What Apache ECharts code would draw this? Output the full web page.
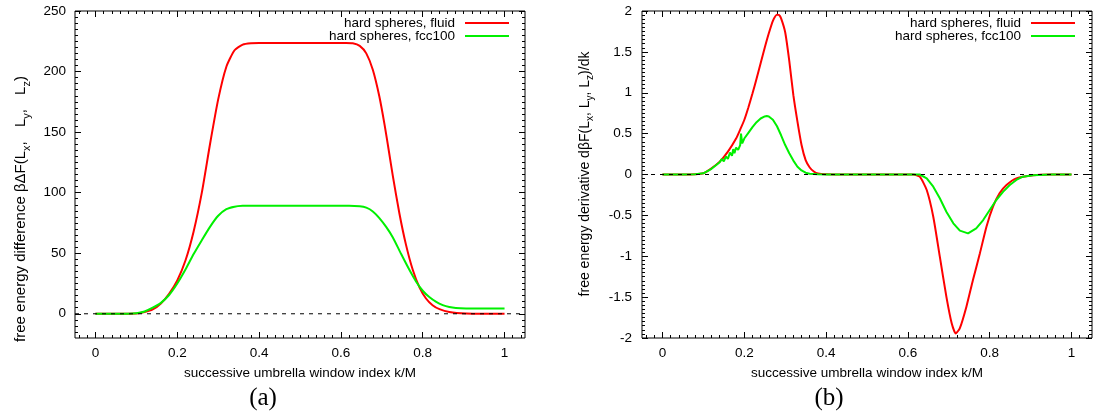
<!DOCTYPE html>
<html><head><meta charset="utf-8">
<script src="https://cdn.jsdelivr.net/npm/echarts@6/dist/echarts.min.js"></script>
<style>html,body{margin:0;padding:0;background:#fff}#c{width:1098px;height:417px}</style>
</head><body><div id="c"></div>
<script>
// ---------- data ----------
const seriesNames = ['hard spheres, fluid', 'hard spheres, fcc100'];
const xTickLabels = [0, 0.2, 0.4, 0.6, 0.8, 1];
const yTickLabelsA = [0, 50, 100, 150, 200, 250];
const yTickLabelsB = [-2, -1.5, -1, -0.5, 0, 0.5, 1, 1.5, 2];
const xLabel = 'successive umbrella window index k/M';
const yLabelA = 'free energy difference βΔF(L{s|x}{c|,} L{s|y}{c|,} L{s|z})';
const yLabelB = 'free energy derivative dβF(L{s|x}, L{s|y}, L{s|z})/dk';
const panelTags = ['(a)', '(b)'];

// panel (a): free energy difference
const fluidKA = [0, 0.05, 0.10, 0.12, 0.14, 0.16, 0.18, 0.20, 0.22, 0.24, 0.26, 0.28, 0.30, 0.32, 0.34, 0.36, 0.38, 0.40, 0.50, 0.613, 0.629, 0.646, 0.662, 0.678, 0.694, 0.707, 0.717, 0.727, 0.743, 0.759, 0.776, 0.792, 0.808, 0.824, 0.841, 0.865, 0.906, 0.95, 1.0];
const fluidF  = [0, 0, 0.2, 1.4, 3.6, 8.5, 16.5, 27.5, 44, 68, 100, 140, 177, 204, 217.6, 222.2, 223.3, 223.5, 223.5, 223.5, 223.3, 221.2, 215, 201.5, 179.4, 155.6, 134.8, 113.7, 82.8, 57.1, 35.9, 21.8, 12.6, 7.1, 3.8, 1.5, 0.2, 0, 0];
const fccKA = [0, 0.05, 0.10, 0.12, 0.14, 0.16, 0.18, 0.20, 0.22, 0.24, 0.26, 0.28, 0.30, 0.32, 0.34, 0.36, 0.38, 0.50, 0.62, 0.646, 0.662, 0.678, 0.694, 0.711, 0.727, 0.747, 0.767, 0.784, 0.800, 0.816, 0.833, 0.849, 0.865, 0.881, 0.906, 0.95, 1.0];
const fccF  = [0, 0, 0.5, 1.9, 5.0, 9.0, 15.5, 25.0, 36.5, 49.3, 60.8, 71.8, 80.9, 86.4, 88.4, 89.1, 89.2, 89.2, 89.2, 88.8, 87.6, 84.5, 79, 71.5, 63, 49.5, 36.5, 26.5, 19, 13.8, 9.8, 7.2, 5.6, 4.8, 4.4, 4.3, 4.3];

// panel (b): derivative
const fluidKB = [0, 0.05, 0.08, 0.10, 0.12, 0.14, 0.16, 0.18, 0.19, 0.20, 0.21, 0.22, 0.23, 0.24, 0.25, 0.26, 0.27, 0.28, 0.285, 0.29, 0.30, 0.31, 0.32, 0.33, 0.34, 0.35, 0.36, 0.37, 0.38, 0.40, 0.45, 0.60, 0.613, 0.629, 0.646, 0.662, 0.678, 0.694, 0.707, 0.717, 0.727, 0.743, 0.759, 0.776, 0.792, 0.808, 0.824, 0.841, 0.865, 0.906, 0.95, 1.0];
const fluidDF = [0, 0, 0.003, 0.015, 0.076, 0.157, 0.28, 0.44, 0.55, 0.667, 0.82, 0.99, 1.17, 1.36, 1.55, 1.727, 1.88, 1.955, 1.95, 1.91, 1.74, 1.39, 0.97, 0.646, 0.36, 0.175, 0.086, 0.037, 0.012, 0.003, 0, 0, 0, -0.027, -0.19, -0.516, -1.005, -1.494, -1.82, -1.944, -1.88, -1.617, -1.29, -0.964, -0.638, -0.393, -0.23, -0.128, -0.047, -0.008, 0, 0];
const fccKB = [0, 0.05, 0.08, 0.10, 0.12, 0.13, 0.14, 0.145, 0.15, 0.155, 0.16, 0.165, 0.17, 0.173, 0.176, 0.18, 0.185, 0.19, 0.192, 0.195, 0.20, 0.21, 0.22, 0.23, 0.24, 0.25, 0.255, 0.26, 0.27, 0.28, 0.29, 0.30, 0.31, 0.32, 0.33, 0.34, 0.35, 0.36, 0.38, 0.40, 0.60, 0.629, 0.646, 0.662, 0.678, 0.694, 0.711, 0.727, 0.747, 0.767, 0.784, 0.800, 0.816, 0.833, 0.849, 0.865, 0.881, 0.906, 0.95, 1.0];
const fccDF = [0, 0, 0.003, 0.015, 0.07, 0.11, 0.15, 0.19, 0.16, 0.22, 0.19, 0.27, 0.23, 0.31, 0.26, 0.33, 0.30, 0.36, 0.50, 0.38, 0.44, 0.51, 0.58, 0.64, 0.685, 0.71, 0.716, 0.71, 0.67, 0.59, 0.48, 0.36, 0.26, 0.17, 0.095, 0.05, 0.022, 0.01, 0.003, 0, 0, 0, -0.047, -0.149, -0.291, -0.455, -0.597, -0.687, -0.72, -0.658, -0.557, -0.434, -0.312, -0.21, -0.128, -0.067, -0.027, -0.008, 0, 0];

// ---------- helpers ----------
const FONT = 'Liberation Sans, Arial, sans-serif';
const FS = 13.5;
const zip = (xs, ys) => xs.map((x, i) => [x, ys[i]]);
function steps(min, max, step) {
  const out = []; const n = Math.round((max - min) / step);
  for (let i = 0; i <= n; i++) out.push(+(min + i * step).toFixed(6));
  return out;
}
const XMIN = -0.05, XMAX = 1.05;
const xMinor = steps(-0.04, 1.04, 0.02);
const noLine = { show: false, onZero: false };

function xAxes(grid) {
  const base = { type: 'value', gridIndex: grid, min: XMIN, max: XMAX, splitLine: { show: false }, axisLine: noLine };
  const tick = (vals, len) => ({ show: true, inside: true, length: len, customValues: vals, lineStyle: { color: '#000', width: 1 } });
  return [
    Object.assign({}, base, { position: 'bottom', axisTick: tick(xTickLabels, 6),
      axisLabel: { customValues: xTickLabels, margin: 8, color: '#000', fontSize: FS, fontFamily: FONT, formatter: v => String(v) },
      name: xLabel, nameLocation: 'middle', nameGap: 28, nameTextStyle: { color: '#000', fontSize: FS, fontFamily: FONT } }),
    Object.assign({}, base, { position: 'bottom', axisTick: tick(xMinor, 3), axisLabel: { show: false } }),
    Object.assign({}, base, { position: 'top', axisTick: tick(xTickLabels, 6), axisLabel: { show: false } }),
    Object.assign({}, base, { position: 'top', axisTick: tick(xMinor, 3), axisLabel: { show: false } })
  ];
}
function yAxes(grid, min, max, majors, minors, margin) {
  const base = { type: 'value', gridIndex: grid, min: min, max: max, splitLine: { show: false }, axisLine: noLine };
  const tick = (vals, len) => ({ show: true, inside: true, length: len, customValues: vals, lineStyle: { color: '#000', width: 1 } });
  return [
    Object.assign({}, base, { position: 'left', axisTick: tick(majors, 6),
      axisLabel: { customValues: majors, margin: margin, color: '#000', fontSize: FS, fontFamily: FONT, formatter: v => String(v) } }),
    Object.assign({}, base, { position: 'left', axisTick: tick(minors, 3), axisLabel: { show: false } }),
    Object.assign({}, base, { position: 'right', axisTick: tick(majors, 6), axisLabel: { show: false } }),
    Object.assign({}, base, { position: 'right', axisTick: tick(minors, 3), axisLabel: { show: false } })
  ];
}
function curve(name, xs, ys, color, axisIdx, smooth) {
  return { type: 'line', name: name, xAxisIndex: axisIdx, yAxisIndex: axisIdx, data: zip(xs, ys),
    symbol: 'none', showSymbol: false, smooth: smooth, silent: true,
    lineStyle: { color: color, width: 2 }, itemStyle: { color: color }, z: 3 };
}
function zeroLine(axisIdx) {
  return { type: 'line', xAxisIndex: axisIdx, yAxisIndex: axisIdx, data: [[XMIN, 0], [XMAX, 0]],
    symbol: 'none', silent: true, lineStyle: { color: '#000', width: 1, type: [4, 5] }, z: 4 };
}
function legendFor(name, right, top) {
  return { data: [name], right: right, top: top, orient: 'horizontal', align: 'right', icon: 'rect',
    itemWidth: 44, itemHeight: 2, padding: 0, selectedMode: false,
    textStyle: { fontSize: FS, fontFamily: FONT, color: '#000', lineHeight: 16, padding: [0, 5, 0, 0] } };
}
function rotLabel(text, x, y, fs, commaGap) {
  const lh = Math.round(fs * 1.45);
  return { type: 'text', x: x, y: y, rotation: Math.PI / 2, silent: true,
    style: { text: text, align: 'center', verticalAlign: 'middle', fontSize: fs, fontFamily: FONT, fill: '#000', lineHeight: lh,
      rich: {
        s: { fontSize: Math.round(fs * 0.72), fontFamily: FONT, fill: '#000', verticalAlign: 'bottom', lineHeight: lh },
        c: { fontSize: fs, fontFamily: FONT, fill: '#000', lineHeight: lh, padding: [0, commaGap, 0, 0] }
      } } };
}
function tagText(text, x, y) {
  return { type: 'text', x: x, y: y, silent: true,
    style: { text: text, align: 'center', verticalAlign: 'middle', fontSize: 25, fontFamily: 'Liberation Serif, serif', fill: '#000' } };
}

const yMinorA = steps(-15, 245, 5);
const yMinorB = steps(-1.95, 1.95, 0.05);

const option = {
  animation: false,
  backgroundColor: '#fff',
  grid: [
    { left: 75, top: 11, width: 450, height: 327, show: true, borderColor: '#000', borderWidth: 1, backgroundColor: 'transparent' },
    { left: 642, top: 11, width: 450, height: 327, show: true, borderColor: '#000', borderWidth: 1, backgroundColor: 'transparent' }
  ],
  xAxis: xAxes(0).concat(xAxes(1)),
  yAxis: yAxes(0, -20, 250, yTickLabelsA, yMinorA, 9).concat(yAxes(1, -2, 2, yTickLabelsB, yMinorB, 10)),
  legend: [
    legendFor(seriesNames[0], 589, 15),
    legendFor(seriesNames[1], 589, 28),
    legendFor(seriesNames[0], 23, 15),
    legendFor(seriesNames[1], 23, 28)
  ],
  series: [
    curve(seriesNames[0], fluidKA, fluidF, '#ff0000', 0, 0.2),
    curve(seriesNames[1], fccKA, fccF, '#00f000', 0, 0.2),
    zeroLine(0),
    curve(seriesNames[0], fluidKB, fluidDF, '#ff0000', 4, 0.2),
    curve(seriesNames[1], fccKB, fccDF, '#00f000', 4, false),
    zeroLine(4)
  ],
  graphic: [
    rotLabel(yLabelA, 21, 209, 15, 10),
    rotLabel(yLabelB, 585, 174, 14, 0),
    tagText(panelTags[0], 263, 398),
    tagText(panelTags[1], 829, 398)
  ]
};
const chart = echarts.init(document.getElementById('c'), null, { renderer: 'canvas' });
chart.setOption(option);
</script></body></html>
